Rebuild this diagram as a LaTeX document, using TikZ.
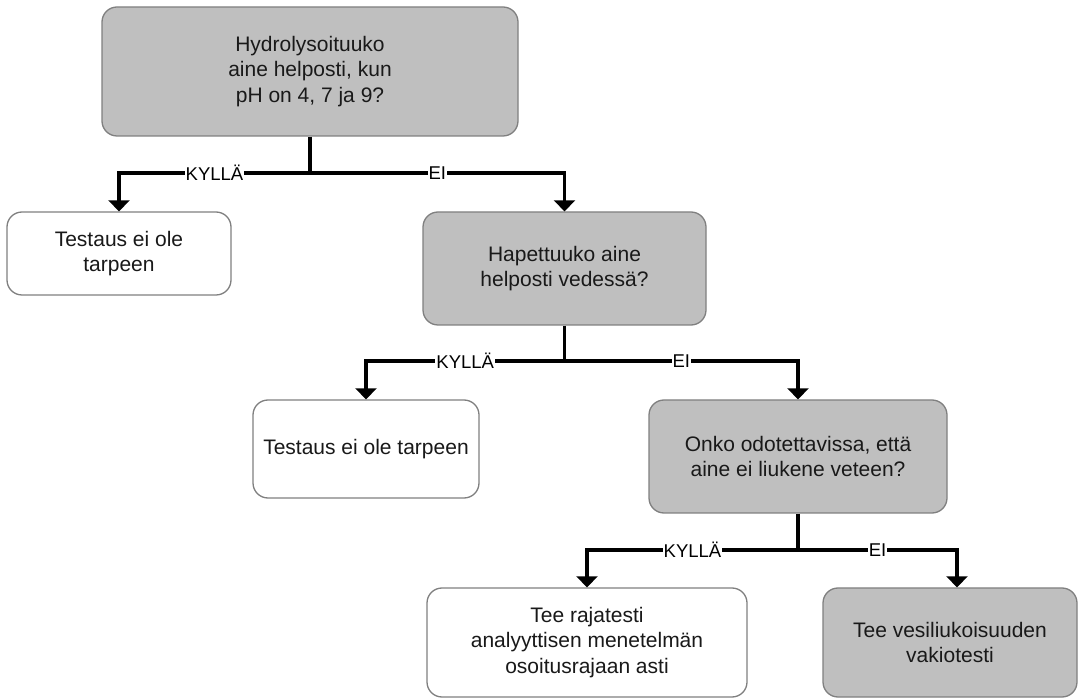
\documentclass[tikz,border=0pt]{standalone}
\usepackage{fontspec}
\setmainfont{Liberation Sans}
\usetikzlibrary{arrows.meta}
\definecolor{boxgray}{HTML}{BFBFBF}
\definecolor{edgegray}{HTML}{808080}
\tikzset{
  box/.style={draw=edgegray, line width=1.3pt, rounded corners=15pt,
    align=center, inner sep=2pt, text=black!90,
    font=\fontsize{21}{25.5}\selectfont},
  question/.style={box, fill=boxgray},
  answer/.style={box, fill=white},
  conn/.style={line width=3.5pt, black},
  arrowconn/.style={conn, -{Triangle[width=21pt,length=11pt]}},
  branch/.style={fill=white, inner sep=1pt, text=black,
    font=\fontsize{18.5}{20}\selectfont},
}
\begin{document}
\begin{tikzpicture}[x=1pt, y=-1pt]
\useasboundingbox (0,0) rectangle (1080,700);

% decision and result boxes
\node[question, minimum width=416pt, minimum height=129pt] (q1) at (310,71.5)
  {Hydrolysoituuko\\aine helposti, kun\\pH on 4, 7 ja 9?};
\node[answer, minimum width=224pt, minimum height=83pt] (a1) at (119,253.5)
  {Testaus ei ole\\tarpeen};
\node[question, minimum width=283pt, minimum height=113pt] (q2) at (564.5,268.5)
  {Hapettuuko aine\\helposti vedessä?};
\node[answer, minimum width=226pt, minimum height=98pt] (a2) at (366,449)
  {Testaus ei ole tarpeen};
\node[question, minimum width=298pt, minimum height=113pt] (q3) at (798,456.5)
  {Onko odotettavissa, että\\aine ei liukene veteen?};
\node[answer, minimum width=320pt, minimum height=109pt] (a3) at (587,642.5)
  {Tee rajatesti\\analyyttisen menetelmän\\osoitusrajaan asti};
\node[question, minimum width=254pt, minimum height=109pt] (a4) at (950,642.5)
  {Tee vesiliukoisuuden\\vakiotesti};

% branch points below each question
\coordinate (j1) at (q1.south |- 0,173);
\coordinate (j2) at (q2.south |- 0,361);
\coordinate (j3) at (q3.south |- 0,550);

% first question
\draw[conn] (q1.south) -- (j1);
\draw[arrowconn] (j1) -| node[branch, pos=0.25] {KYLLÄ} (a1.north);
\draw[arrowconn] (j1) -| node[branch, pos=0.25] {EI} (q2.north);

% second question
\draw[conn] (q2.south) -- (j2);
\draw[arrowconn] (j2) -| node[branch, pos=0.25] {KYLLÄ} (a2.north);
\draw[arrowconn] (j2) -| node[branch, pos=0.25] {EI} (q3.north);

% third question
\draw[conn] (q3.south) -- (j3);
\draw[arrowconn] (j3) -| node[branch, pos=0.25] {KYLLÄ} (a3.north);
\draw[arrowconn] (j3) -| node[branch, pos=0.25] {EI} ([xshift=7pt]a4.north);
\end{tikzpicture}
\end{document}
